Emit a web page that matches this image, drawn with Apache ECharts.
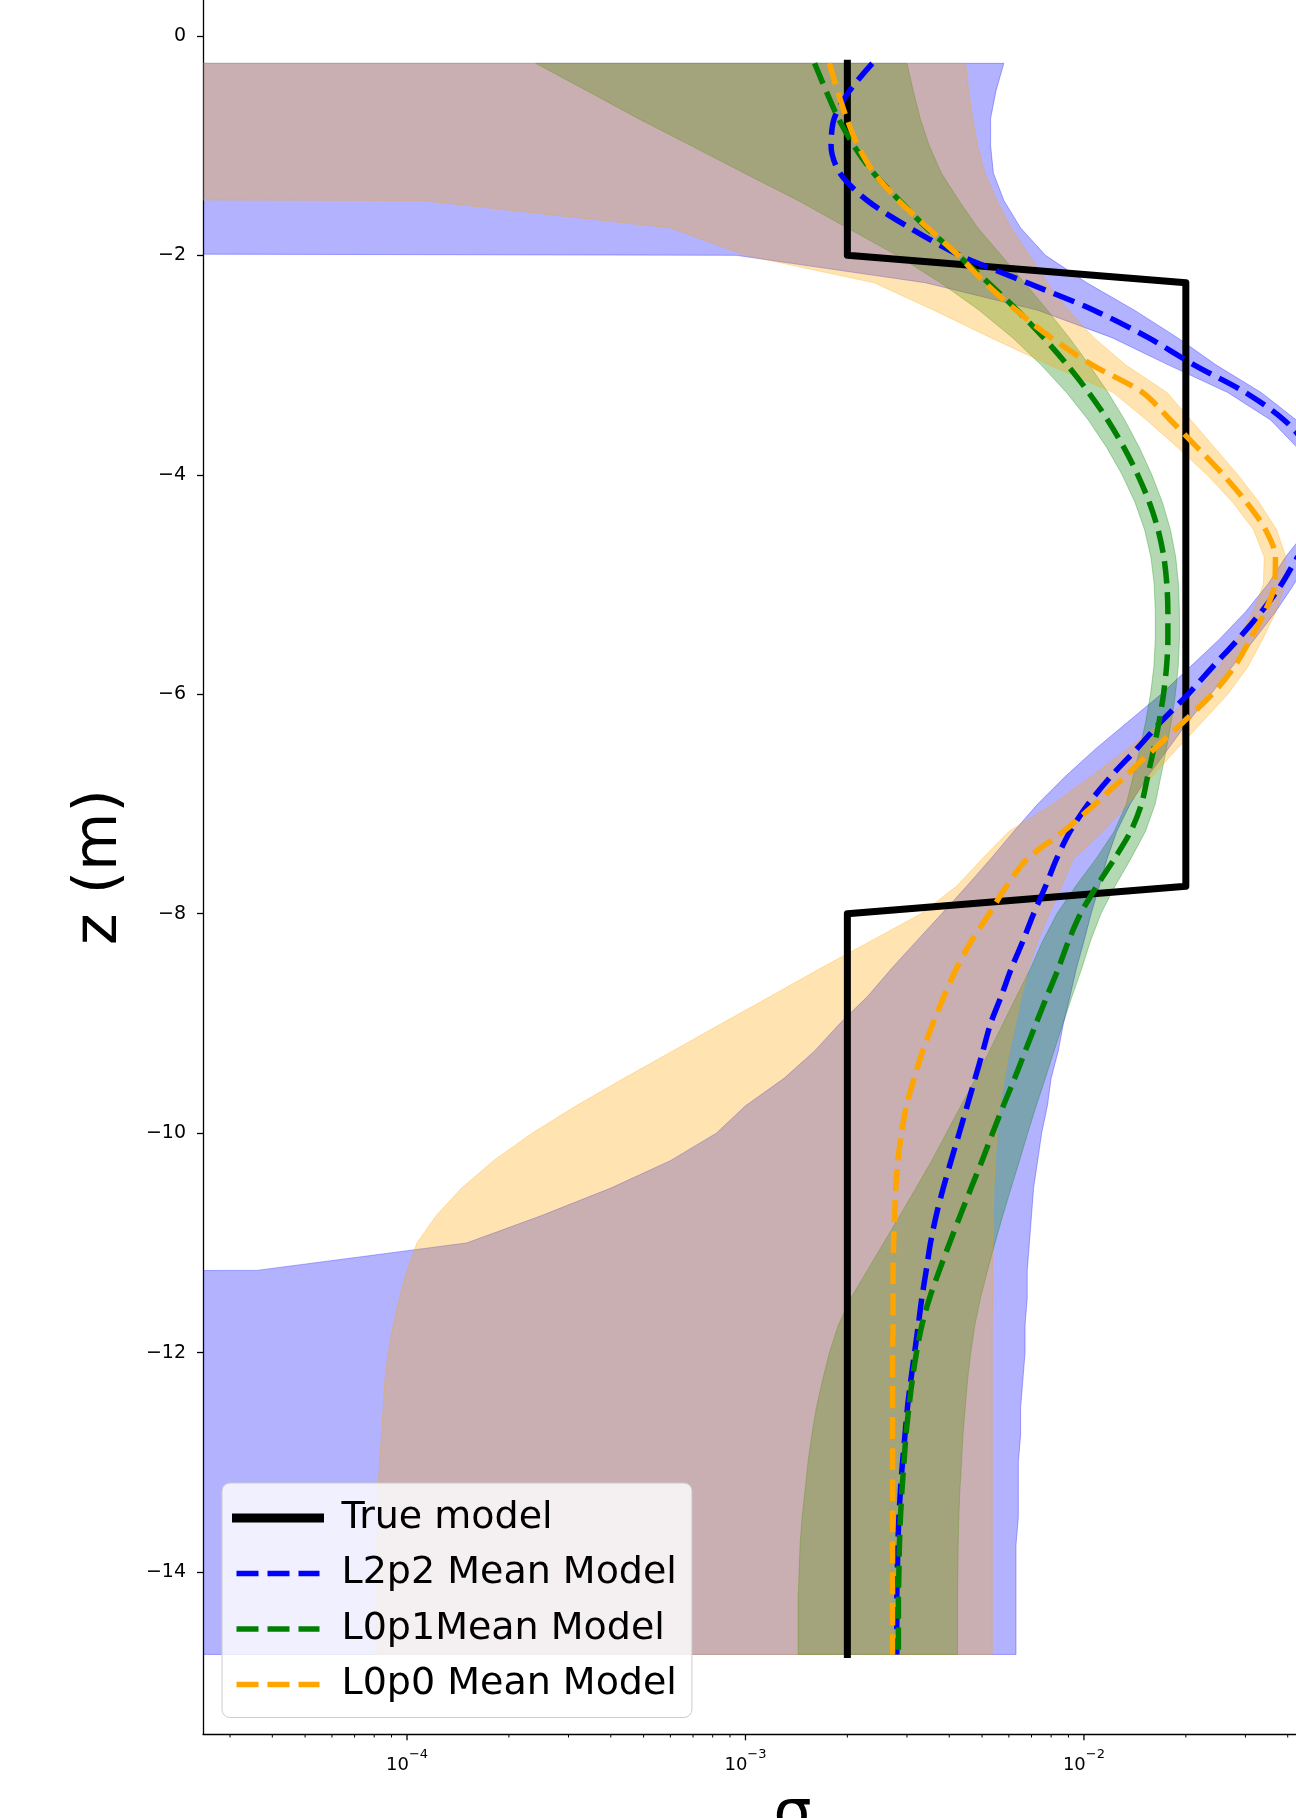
<!DOCTYPE html>
<html><head><meta charset="utf-8">
<script src="https://cdn.jsdelivr.net/npm/echarts@6/dist/echarts.min.js"></script>
<style>html,body{margin:0;padding:0;background:#fff}#c{width:1296px;height:1818px}</style>
</head><body><div id="c"></div>
<script>
// ---------- data ----------
const depth = [-0.25,-0.5,-0.75,-1,-1.25,-1.5,-1.75,-2,-2.25,-2.5,-2.75,-3,-3.25,-3.5,-3.75,-4,-4.25,-4.5,-4.75,-5,-5.25,-5.5,-5.75,-6,-6.25,-6.5,-6.75,-7,-7.25,-7.5,-7.75,-8,-8.25,-8.5,-8.75,-9,-9.25,-9.5,-9.75,-10,-10.25,-10.5,-10.75,-11,-11.25,-11.5,-11.75,-12,-12.25,-12.5,-12.75,-13,-13.25,-13.5,-13.75,-14,-14.25,-14.5,-14.75];

const trueDepth = [-0.25,-2.0,-2.25,-7.75,-8.0,-14.75];
const trueSigma = [0.002,0.002,0.02,0.02,0.002,0.002];

const l2p2Mean = [0.00237,0.00203,0.00183,0.00179,0.00190,0.00229,0.00306,0.00430,0.00680,0.01070,
0.01550,0.02120,0.03000,0.03900,0.04600,0.05050,0.05200,0.04900,0.04280,0.03830,
0.03340,0.02850,0.02400,0.02030,0.01690,0.01430,0.01200,0.01030,0.00910,0.00830,
0.00770,0.00710,0.00660,0.00610,0.00570,0.00530,0.00503,0.00477,0.00452,0.00428,
0.00405,0.00384,0.00366,0.00352,0.00342,0.00332,0.00324,0.00316,0.00308,0.00301,
0.00296,0.00291,0.00287,0.00284,0.00282,0.00281,0.00280,0.00280,0.00280];
const l2p2Low = [1e-40,1e-40,1e-40,1e-40,1e-40,1e-40,1e-40,0.00094,0.0034,0.0073,
0.0121,0.0178,0.0266,0.0356,0.0426,0.0471,0.0486,0.0456,0.0394,0.0349,
0.0300,0.0251,0.0206,0.0169,0.0135,0.0108,0.0088,0.0073,0.0062,0.0053,
0.0045,0.0038,0.0032,0.0027,0.0023,0.0019,0.0016,0.0013,0.0010,0.00082,
0.00060,0.00040,0.00025,0.00015,0.000036,1e-40,1e-40,1e-40,1e-40,1e-40,
1e-40,1e-40,1e-40,1e-40,1e-40,1e-40,1e-40,1e-40,1e-40];
const l2p2High = [0.0058,0.0055,0.0053,0.0053,0.0054,0.0058,0.0065,0.0077,0.0102,0.0141,
0.0189,0.0246,0.0334,0.0424,0.0494,0.0539,0.0554,0.0524,0.0462,0.0417,
0.0368,0.0319,0.0274,0.0237,0.0203,0.0177,0.0154,0.0137,0.0125,0.0117,
0.0111,0.0105,0.0100,0.0095,0.0091,0.0087,0.0084,0.0080,0.0078,0.0075,
0.0073,0.0071,0.0070,0.0069,0.0068,0.0068,0.0067,0.0067,0.0066,0.0065,
0.0065,0.0064,0.0064,0.0064,0.0063,0.0063,0.0063,0.0063,0.0063];

const l0p1Mean = [0.00160,0.00173,0.00188,0.00209,0.00239,0.00285,0.00343,0.00425,0.00522,0.00635,
0.00760,0.00893,0.01033,0.01175,0.01312,0.01442,0.01560,0.01656,0.01722,0.01758,
0.01770,0.01770,0.01754,0.01718,0.01667,0.01607,0.01542,0.01479,0.01374,0.01230,
0.01090,0.00977,0.00900,0.00840,0.00778,0.00722,0.00671,0.00624,0.00578,0.00537,
0.00500,0.00464,0.00431,0.00401,0.00374,0.00350,0.00332,0.00320,0.00311,0.00304,
0.00298,0.00294,0.00290,0.00287,0.00285,0.00284,0.00283,0.00283,0.00283];
const l0p1Low = [0.00024,0.00034,0.00048,0.00069,0.00099,0.00143,0.00200,0.00280,0.00377,0.00490,
0.00615,0.00748,0.00888,0.01030,0.01167,0.01297,0.01415,0.01511,0.01577,0.01613,
0.01625,0.01625,0.01609,0.01573,0.01522,0.01462,0.01397,0.01334,0.01229,0.01085,
0.00945,0.00832,0.00755,0.00695,0.00633,0.00577,0.00526,0.00479,0.00433,0.00392,
0.00355,0.00319,0.00286,0.00256,0.00229,0.00205,0.00188,0.00177,0.00169,0.00162,
0.00157,0.00153,0.00150,0.00147,0.00145,0.00144,0.00143,0.00143,0.00143];
const l0p1High = [0.00300,0.00313,0.00328,0.00349,0.00379,0.00427,0.00486,0.00570,0.00667,0.00780,
0.00905,0.01038,0.01178,0.01320,0.01457,0.01587,0.01705,0.01801,0.01867,0.01903,
0.01915,0.01915,0.01899,0.01863,0.01812,0.01752,0.01687,0.01624,0.01519,0.01375,
0.01235,0.01122,0.01045,0.00985,0.00923,0.00867,0.00816,0.00769,0.00723,0.00682,
0.00645,0.00609,0.00576,0.00546,0.00519,0.00495,0.00476,0.00463,0.00453,0.00446,
0.00439,0.00435,0.00430,0.00427,0.00425,0.00424,0.00423,0.00423,0.00423];

const l0p0Mean = [0.00177,0.00187,0.00199,0.00215,0.00240,0.00283,0.00346,0.00425,0.00510,0.00630,
0.00800,0.01060,0.01490,0.01800,0.02160,0.02580,0.03020,0.03440,0.03680,0.03660,
0.03420,0.03100,0.02780,0.02390,0.01970,0.01610,0.01320,0.01080,0.00870,0.00680,
0.00590,0.00525,0.00465,0.00420,0.00386,0.00358,0.00334,0.00315,0.00299,0.00289,
0.00282,0.00278,0.00276,0.00274,0.00273,0.00273,0.00273,0.00272,0.00272,0.00272,
0.00272,0.00272,0.00272,0.00272,0.00272,0.00272,0.00272,0.00272,0.00272];
const l0p0Low = [1e-40,1e-40,1e-40,1e-40,1e-40,0.00011,0.00060,0.00100,0.0024,0.0036,
0.0053,0.0079,0.0122,0.0153,0.0189,0.0231,0.0275,0.0317,0.0341,0.0339,
0.0315,0.0283,0.0251,0.0212,0.0170,0.0134,0.0105,0.0081,0.0060,0.0050,
0.0042,0.0033,0.00234,0.00166,0.00119,0.00085,0.00061,0.000437,0.000316,0.000234,
0.000180,0.000145,0.000122,0.000107,0.000100,0.000095,0.000091,0.000088,0.000086,0.000085,
0.000084,0.000083,0.000082,0.000082,0.000081,0.000081,0.000081,0.000081,0.000081];
const l0p0High = [0.00447,0.00457,0.00469,0.00485,0.00510,0.00553,0.00610,0.00690,0.00780,0.00900,
0.01070,0.01330,0.01760,0.02070,0.02430,0.02850,0.03290,0.03710,0.03950,0.03930,
0.03690,0.03370,0.03050,0.02660,0.02240,0.01880,0.01590,0.01350,0.01140,0.00930,
0.00860,0.00790,0.00730,0.00685,0.00654,0.00628,0.00602,0.00582,0.00564,0.00554,
0.00547,0.00542,0.00540,0.00538,0.00537,0.00537,0.00536,0.00536,0.00536,0.00536,
0.00536,0.00536,0.00536,0.00536,0.00536,0.00536,0.00536,0.00536,0.00536];

const yTickValues = [0,-2,-4,-6,-8,-10,-12,-14];
const xMajorTicks = [1e-4,1e-3,1e-2];
const xMinorTicks = [3e-5,4e-5,5e-5,6e-5,7e-5,8e-5,9e-5,
  2e-4,3e-4,4e-4,5e-4,6e-4,7e-4,8e-4,9e-4,
  2e-3,3e-3,4e-3,5e-3,6e-3,7e-3,8e-3,9e-3,
  2e-2,3e-2,4e-2];
const legendNames = ['True model','L2p2 Mean Model','L0p1Mean Model','L0p0 Mean Model'];

// ---------- view limits ----------
const X_MIN = 2.496e-5, X_MAX = 0.04232;
const Y_MIN = -15.475, Y_MAX = 0.327;
const FONT = 'DejaVu Sans';

function pairs(xs, ys) { return xs.map((v, i) => [v, ys[i]]); }

function band(name, low, high, color) {
  return {
    type: 'custom', name: name, clip: true, silent: true, z: 1,
    data: depth.map((z, i) => [low[i], high[i], z]),
    encode: { x: [0, 1], y: 2 },
    renderItem: function (params, api) {
      if (params.dataIndex !== 0) return null;
      const pts = [];
      for (let i = 0; i < depth.length; i++) pts.push(api.coord([low[i], depth[i]]));
      for (let i = depth.length - 1; i >= 0; i--) pts.push(api.coord([high[i], depth[i]]));
      return { type: 'polygon', shape: { points: pts }, style: { fill: color, stroke: color, lineWidth: 1 } };
    }
  };
}

function ticks(values, len, width) {
  return {
    type: 'custom', clip: false, silent: true, z: 6,
    data: values.map(v => [v, Y_MIN]),
    encode: { x: 0, y: 1 },
    renderItem: function (params, api) {
      const p = api.coord([api.value(0), api.value(1)]);
      return { type: 'line', shape: { x1: p[0], y1: p[1], x2: p[0], y2: p[1] + len },
               style: { stroke: '#000', lineWidth: width } };
    }
  };
}

function meanLine(name, xs, color) {
  return {
    type: 'line', name: name, data: pairs(xs, depth), symbol: 'none', showSymbol: false, z: 4,
    smooth: 0.3,
    lineStyle: { color: color, width: 5.5, type: [22, 9], cap: 'butt', join: 'round' },
    itemStyle: { color: color }, emphasis: { disabled: true }
  };
}

function fmtX(v) {
  const e = Math.log10(v), r = Math.round(e);
  if (Math.abs(e - r) > 1e-6) return '';
  return '{b|10}{s|' + (r < 0 ? '\u2212' + (-r) : String(r)) + '}';
}
function fmtY(v) { return v < 0 ? '\u2212' + Math.abs(v) : String(v); }

const chart = echarts.init(document.getElementById('c'), null, { renderer: 'canvas' });
chart.setOption({
  animation: false,
  backgroundColor: '#ffffff',
  grid: { left: 203, right: 0, top: 0, bottom: 84, containLabel: false, outerBoundsMode: 'none' },
  xAxis: {
    type: 'log', logBase: 10, min: X_MIN, max: X_MAX,
    axisLine: { show: true, onZero: false, lineStyle: { color: '#000', width: 1.3 } },
    axisTick: { show: false }, minorTick: { show: false },
    splitLine: { show: false }, minorSplitLine: { show: false },
    axisLabel: {
      formatter: fmtX, interval: 0, margin: 14, showMinLabel: false, showMaxLabel: false,
      rich: {
        b: { fontSize: 18, fontFamily: FONT, color: '#000', lineHeight: 26, verticalAlign: 'bottom' },
        s: { fontSize: 13, fontFamily: FONT, color: '#000', lineHeight: 14, verticalAlign: 'top' }
      }
    },
    name: '\u03c3', nameLocation: 'middle', nameGap: 52,
    nameTextStyle: { fontSize: 60, fontFamily: FONT, color: '#000', padding: [0, 0, 0, 86] }
  },
  yAxis: {
    type: 'value', min: Y_MIN, max: Y_MAX,
    axisLine: { show: true, onZero: false, lineStyle: { color: '#000', width: 1.3 } },
    axisTick: { show: true, length: 6, customValues: yTickValues, lineStyle: { color: '#000', width: 1.3 } },
    axisLabel: { customValues: yTickValues, formatter: fmtY, fontSize: 19, fontFamily: FONT, color: '#000', margin: 17 },
    splitLine: { show: false },
    name: 'z (m)', nameLocation: 'middle', nameGap: 73,
    nameTextStyle: { fontSize: 60, fontFamily: FONT, color: '#000' }
  },
  legend: {
    orient: 'vertical', left: 222, top: 1483,
    data: [
      { name: legendNames[0], lineStyle: { width: 9 } },
      { name: legendNames[1], lineStyle: { width: 5.5 } },
      { name: legendNames[2], lineStyle: { width: 5.5 } },
      { name: legendNames[3], lineStyle: { width: 5.5 } }
    ],
    itemWidth: 83, itemHeight: 14, itemGap: 17.5,
    padding: [16, 15, 14, 10],
    backgroundColor: 'rgba(255,255,255,0.8)', borderColor: '#cccccc', borderWidth: 1, borderRadius: 8,
    itemStyle: { opacity: 0 },
    selectedMode: false,
    formatter: function (n) { return '{t|' + n + '}'; },
    textStyle: { fontSize: 38, fontFamily: FONT, color: '#000',
      rich: { t: { fontSize: 38, fontFamily: FONT, color: '#000', lineHeight: 44, padding: [0, 0, 0, 17] } } }
  },
  series: [
    band('L2p2 band', l2p2Low, l2p2High, 'rgba(0,0,255,0.3)'),
    band('L0p1 band', l0p1Low, l0p1High, 'rgba(0,128,0,0.3)'),
    band('L0p0 band', l0p0Low, l0p0High, 'rgba(255,165,0,0.3)'),
    {
      type: 'line', name: 'True model', data: pairs(trueSigma, trueDepth), symbol: 'none', showSymbol: false, z: 3,
      lineStyle: { color: '#000', width: 7, cap: 'square', join: 'round' }, itemStyle: { color: '#000' },
      emphasis: { disabled: true }
    },
    meanLine('L2p2 Mean Model', l2p2Mean, '#0000ff'),
    meanLine('L0p1Mean Model', l0p1Mean, '#008000'),
    meanLine('L0p0 Mean Model', l0p0Mean, '#ffa500'),
    ticks(xMajorTicks, 6.3, 1.3),
    ticks(xMinorTicks, 3.5, 1)
  ]
});
</script></body></html>
